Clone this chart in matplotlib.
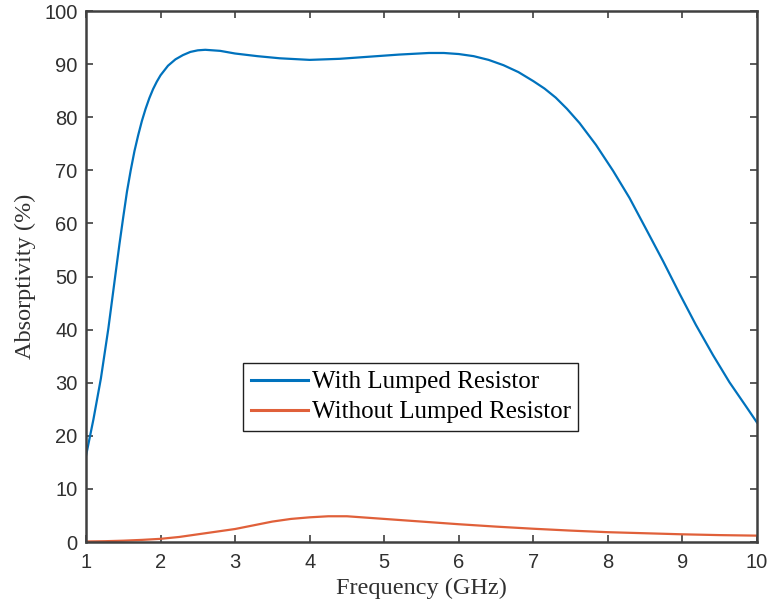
import numpy as np
import matplotlib.pyplot as plt

# Absorptivity curves read at these frequencies (GHz)
freq_with = [1.0, 1.1, 1.2, 1.3, 1.4, 1.45, 1.5, 1.55, 1.6, 1.65, 1.7, 1.75,
             1.8, 1.85, 1.9, 1.95, 2.0, 2.1, 2.2, 2.3, 2.4, 2.5, 2.6, 2.8,
             3.0, 3.3, 3.6, 4.0, 4.4, 4.8, 5.2, 5.6, 5.8, 6.0, 6.2, 6.4, 6.6,
             6.8, 7.0, 7.15, 7.3, 7.45, 7.62, 7.84, 8.07, 8.29, 8.51, 8.74,
             8.96, 9.18, 9.41, 9.63, 9.85, 10.0]
abs_with = [16.2, 23.1, 30.8, 40.2, 50.9, 56.2, 61.2, 66.0, 70.0, 73.6, 76.6,
            79.3, 81.6, 83.6, 85.3, 86.7, 87.9, 89.7, 90.9, 91.7, 92.3, 92.6,
            92.7, 92.5, 92.0, 91.5, 91.1, 90.8, 91.0, 91.4, 91.8, 92.1, 92.1,
            91.9, 91.5, 90.8, 89.8, 88.5, 86.8, 85.4, 83.7, 81.6, 78.9, 74.8,
            69.9, 64.8, 59.0, 52.9, 46.8, 40.9, 35.2, 30.1, 25.6, 22.5]

freq_without = [1.0, 1.25, 1.5, 1.75, 2.0, 2.25, 2.5, 2.75, 3.0, 3.25, 3.5,
                3.75, 4.0, 4.25, 4.5, 4.75, 5.0, 5.5, 6.0, 6.5, 7.0, 7.5, 8.0,
                8.5, 9.0, 9.5, 10.0]
abs_without = [0.1, 0.15, 0.25, 0.4, 0.6, 0.95, 1.45, 1.95, 2.45, 3.15, 3.85,
               4.35, 4.65, 4.85, 4.85, 4.6, 4.35, 3.85, 3.35, 2.9, 2.5, 2.15,
               1.85, 1.65, 1.45, 1.3, 1.2]

xticks = np.arange(1, 11)
yticks = np.arange(0, 101, 10)

fig = plt.figure(figsize=(7.69, 6.13), dpi=100)
ax = fig.add_axes([0.1118, 0.1158, 0.8726, 0.8662])

ax.plot(freq_with, abs_with, color='#0072BD', lw=1.6,
        label='With Lumped Resistor')
ax.plot(freq_without, abs_without, color='#E0603A', lw=1.6,
        label='Without Lumped Resistor')

ax.set_xlim(1, 10)
ax.set_ylim(0, 100)
ax.set_xticks(xticks)
ax.set_yticks(yticks)

for s in ax.spines.values():
    s.set_color('#404040')
    s.set_linewidth(1.8)
ax.tick_params(direction='in', top=True, right=True, length=5, width=1.2,
               color='#404040', labelcolor='#303030', labelsize=14.5)
ax.tick_params(axis='x', pad=8)
ax.tick_params(axis='y', pad=6)
for lab in ax.get_xticklabels() + ax.get_yticklabels():
    lab.set_family('Liberation Sans')

ax.set_xlabel('Frequency (GHz)', family='Liberation Serif', fontsize=17.5,
              color='#303030', labelpad=4)
ax.set_ylabel('Absorptivity (%)', family='Liberation Serif', fontsize=17.5,
              color='#303030', labelpad=6)

leg = ax.legend(loc='center', bbox_to_anchor=(0.484, 0.273), fancybox=False,
                framealpha=1, edgecolor='#202020',
                prop={'family': 'Liberation Serif', 'size': 18},
                handlelength=2.3, handletextpad=0.15, labelspacing=0.3,
                borderpad=0.3, borderaxespad=0)
leg.get_frame().set_linewidth(1.0)
for line in leg.get_lines():
    line.set_linewidth(2.2)

fig.savefig('out.png', dpi=100)
